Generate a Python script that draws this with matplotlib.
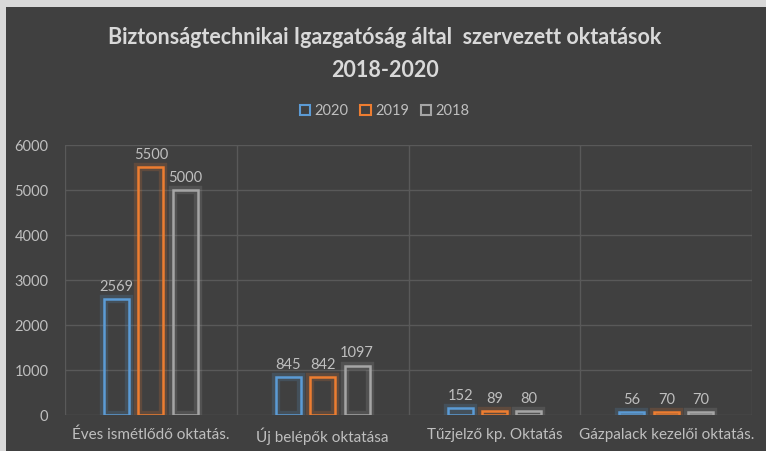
import matplotlib; matplotlib.use("Agg")
import matplotlib.pyplot as plt
import matplotlib.patheffects as pe
from matplotlib.patches import Rectangle
import numpy as np

categories = ["Éves ismétlődő oktatás.", "Új belépők oktatása", "Tűzjelző kp. Oktatás", "Gázpalack kezelői oktatás."]
years = ["2020", "2019", "2018"]
v2020 = [2569, 845, 152, 56]
v2019 = [5500, 842, 89, 70]
v2018 = [5000, 1097, 80, 70]
yticks = [0, 1000, 2000, 3000, 4000, 5000, 6000]

BG = "#404040"
colors = ["#5B9BD5", "#ED7D31", "#A5A5A5"]
TXT = "#BFBFBF"
plt.rcParams["font.family"] = ["Lato", "DejaVu Sans"]

fig = plt.figure(figsize=(7.662, 4.512), dpi=100, facecolor=BG)
# light frame at left and top edge, as in the screenshot
fig.patches.append(Rectangle((0, 0), 6/766, 1, transform=fig.transFigure, facecolor="#D9D9D9", edgecolor="none"))
fig.patches.append(Rectangle((0, 1 - 7/451), 1, 7/451, transform=fig.transFigure, facecolor="#D9D9D9", edgecolor="none"))

ax = fig.add_axes([65/766, 1 - 415/451, 687/766, 270/451])
ax.set_facecolor(BG)
ax.set_xlim(-0.5, len(categories) - 0.5); ax.set_ylim(0, 6000)

x = np.arange(len(categories)); w = 0.145; step = 0.2
for i, (vals, c, lab) in enumerate(zip([v2020, v2019, v2018], colors, years)):
    bars = ax.bar(x + (i - 1) * step, vals, w, facecolor="none", edgecolor=c, lw=1.8, label=lab, zorder=3)
    for b in bars:
        b.set_path_effects([pe.Stroke(linewidth=6, foreground=c, alpha=0.18), pe.Normal()])
    for b, v in zip(bars, vals):
        ax.text(b.get_x() + b.get_width() / 2, v + 120, str(v), ha="center", va="bottom", fontsize=10.5, color=TXT)

ax.set_yticks(yticks)
ax.set_xticks(x); ax.set_xticklabels(categories)
ax.set_xticks(np.arange(len(categories) + 1) - 0.5, minor=True)
ax.grid(axis="y", which="major", color="#595959", lw=1)
ax.grid(axis="x", which="minor", color="#595959", lw=1)
ax.set_axisbelow(True)
ax.tick_params(which="both", length=0, colors=TXT, labelsize=10.5, pad=12)
ax.tick_params(axis="x", labelsize=11, pad=9)
for s in ax.spines.values(): s.set_visible(False)

fig.text(0.502, 1 - 37/451, "Biztonságtechnikai Igazgatóság által  szervezett oktatások", ha="center", va="center",
         fontsize=15.5, fontweight="bold", color="#D9D9D9")
fig.text(0.502, 1 - 70/451, "2018-2020", ha="center", va="center", fontsize=15.5, fontweight="bold", color="#D9D9D9")
handles = [Rectangle((0, 0), 1, 1, facecolor="none", edgecolor=c, lw=1.5) for c in colors]
leg = fig.legend(handles, years, loc="center", bbox_to_anchor=(0.502, 1 - 111/451), ncol=3, frameon=False,
                 fontsize=10.5, labelcolor=TXT, handlelength=0.7, handleheight=0.7, handletextpad=0.3, columnspacing=0.8)

fig.savefig("out.png", dpi=100, facecolor=fig.get_facecolor())
